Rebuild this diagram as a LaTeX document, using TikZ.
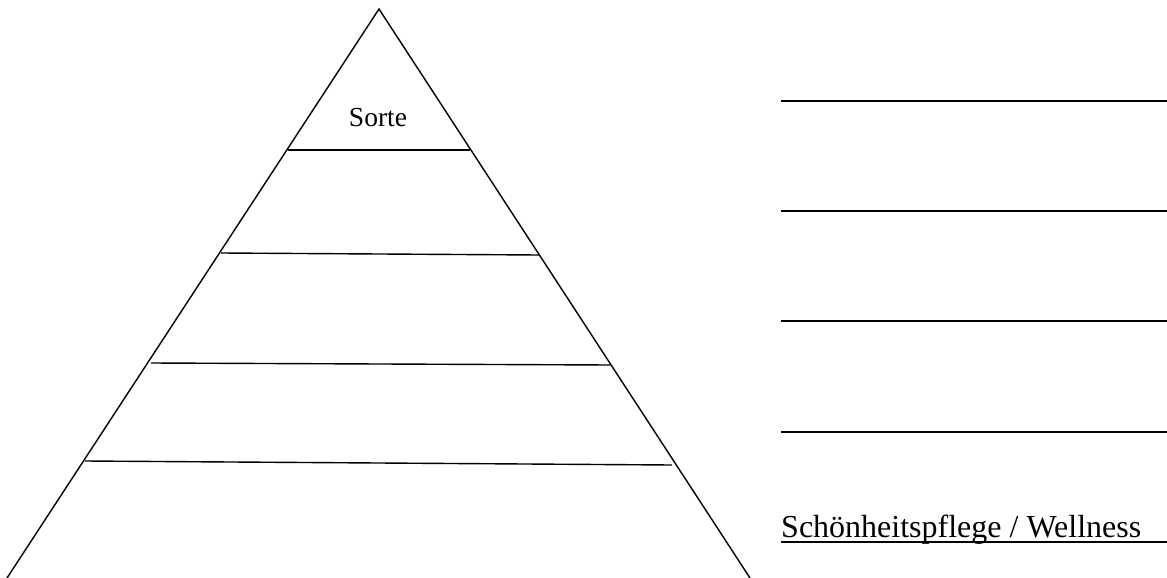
\documentclass[tikz,border=0pt]{standalone}
\usepackage{fontspec}
\setmainfont{Liberation Serif}
\begin{document}
\begin{tikzpicture}[x=1pt,y=-1pt,
  edge/.style={line width=1.4pt,black},
  rule/.style={line width=2pt,black},
  lbl/.style={inner sep=0pt,anchor=base}]
\useasboundingbox (0,0) rectangle (1167,578);
% pyramid corners
\coordinate (apex) at (379,9);
\coordinate (bl) at (7,578);
\coordinate (br) at (750,578);
\draw[edge] (bl) -- (apex) -- (br);
% tiers
\coordinate (l1) at (288,150); \coordinate (r1) at (470,150);
\coordinate (l2) at (221,253); \coordinate (r2) at (539,255);
\coordinate (l3) at (151,363); \coordinate (r3) at (611,365);
\coordinate (l4) at (85,461);  \coordinate (r4) at (672,465);
\draw[edge] (l1) -- (r1);
\draw[edge] (l2) -- (r2);
\draw[edge] (l3) -- (r3);
\draw[edge] (l4) -- (r4);
\node[lbl,font=\fontsize{27.5}{30}\selectfont] (sorte) at (378,126) {Sorte};
% right rules
\coordinate (a1) at (781,100.7); \coordinate (b1) at (1167,100.7);
\coordinate (a2) at (781,210.7); \coordinate (b2) at (1167,210.7);
\coordinate (a3) at (781,320.7); \coordinate (b3) at (1167,320.7);
\coordinate (a4) at (781,431.7); \coordinate (b4) at (1167,431.7);
\draw[rule] (a1) -- (b1);
\draw[rule] (a2) -- (b2);
\draw[rule] (a3) -- (b3);
\draw[rule] (a4) -- (b4);
\node[inner sep=0pt,anchor=base west,font=\fontsize{32}{36}\selectfont] (well) at (781,537) {Schönheitspflege / Wellness};
\coordinate (u1) at (781,542); \coordinate (u2) at (1167,542);
\draw[rule] (u1) -- (u2);
\end{tikzpicture}
\end{document}
